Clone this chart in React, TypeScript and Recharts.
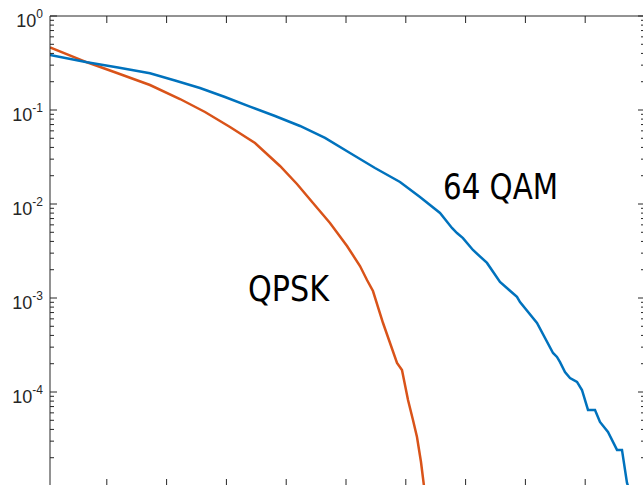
import React from 'react';
import { LineChart, Line, XAxis, YAxis, Customized } from 'recharts';

// Complementary CDF curves, x in dB, probability on a log axis
const qpskX = [0.05, 0.669, 1.17, 1.722, 2.224, 2.642, 3.06, 3.478, 3.896, 4.18, 4.448, 4.732, 5.017, 5.234, 5.351, 5.451, 5.619, 5.853, 5.936, 6.037, 6.12, 6.187, 6.254, 6.304];
const qpskY = [0.462, 0.3217, 0.2475, 0.1845, 0.1309, 0.0952, 0.0659, 0.0446, 0.02537, 0.01632, 0.01025, 0.00628, 0.003574, 0.00219, 0.001554, 0.001187, 5.42e-4, 2.04e-4, 1.71e-4, 8.22e-5, 5.04e-5, 3.32e-5, 1.8e-5, 1e-5];

const qamX = [0.05, 0.669, 1.187, 1.722, 2.14, 2.558, 2.976, 3.394, 3.813, 4.231, 4.649, 5.067, 5.485, 5.903, 6.237, 6.572, 6.772, 6.856, 6.956, 7.123, 7.358, 7.575, 7.859, 7.91, 8.194, 8.462, 8.528, 8.579, 8.662, 8.746, 8.863, 8.946, 9.047, 9.164, 9.247, 9.381, 9.532, 9.615, 9.699, 9.716];
const qamY = [0.385, 0.322, 0.2832, 0.2457, 0.206, 0.1714, 0.1375, 0.1084, 0.0863, 0.0676, 0.0504, 0.0349, 0.02415, 0.01714, 0.01187, 0.00802, 0.00556, 0.00491, 0.00434, 0.00324, 0.00236, 0.00148, 0.00103, 9.06e-4, 5.42e-4, 2.6e-4, 2.36e-4, 2.08e-4, 1.63e-4, 1.41e-4, 1.28e-4, 1.05e-4, 6.44e-5, 6.44e-5, 4.8e-5, 3.75e-5, 2.42e-5, 2.42e-5, 1.08e-5, 1e-5];

const xTicks = [1, 2, 3, 4, 5, 6, 7, 8, 9];
const decadeExponents = [0, -1, -2, -3, -4, -5];
const labelledExponents = [0, -1, -2, -3, -4];
const minorMultipliers = [2, 3, 4, 5, 6, 7, 8, 9];

const seriesLabels = [
  { text: 'QPSK', x: 248, y: 301, width: 81 },
  { text: '64 QAM', x: 443, y: 199, width: 115 },
];

const BLUE = '#0072BD';
const ORANGE = '#D95319';
const AXIS = '#262626';
const MAJOR = 7;
const MINOR = 4;

const qpskData = qpskX.map((x, i) => ({ x, y: qpskY[i] }));
const qamData = qamX.map((x, i) => ({ x, y: qamY[i] }));

const yTicks: number[] = [];
decadeExponents.forEach((e) => {
  const base = Math.pow(10, e);
  yTicks.push(base);
  if (e < 0) minorMultipliers.forEach((m) => yTicks.push(m * base));
});
yTicks.sort((a, b) => a - b);

const exponentOf = (v: number) => Math.round(Math.log10(v));
const isMajor = (v: number) => Math.abs(Math.log10(v) - exponentOf(v)) < 1e-9;

const LeftTick = (props: any) => {
  const { x, y, payload } = props;
  const v = payload.value;
  const major = isMajor(v);
  const len = major ? MAJOR : MINOR;
  const showLabel = major && labelledExponents.includes(exponentOf(v));
  return (
    <g>
      <line x1={x} x2={x + len} y1={y} y2={y} stroke={AXIS} strokeWidth={1} />
      {showLabel && (
        <text x={x - 7} y={y + 11} textAnchor="end" fontSize={18} fill={AXIS} fontFamily="'Liberation Sans', Arial, sans-serif">
          10<tspan dy={-9} fontSize={12}>{String(exponentOf(v))}</tspan>
        </text>
      )}
    </g>
  );
};

const RightTick = (props: any) => {
  const { x, y, payload } = props;
  const len = isMajor(payload.value) ? MAJOR : MINOR;
  return <line x1={x} x2={x - len} y1={y} y2={y} stroke={AXIS} strokeWidth={1} />;
};

const BottomTick = (props: any) => {
  const { x, y } = props;
  return <line x1={x} x2={x} y1={y} y2={y - MAJOR} stroke={AXIS} strokeWidth={1} />;
};

const TopTick = (props: any) => {
  const { x, y } = props;
  return <line x1={x} x2={x} y1={y} y2={y + MAJOR} stroke={AXIS} strokeWidth={1} />;
};

const SeriesLabels = () => (
  <g>
    {seriesLabels.map((l) => (
      <text
        key={l.text}
        x={l.x}
        y={l.y}
        fontSize={35}
        fill="#000"
        textLength={l.width}
        lengthAdjust="spacingAndGlyphs"
        fontFamily="'Liberation Sans Narrow', 'DejaVu Sans Condensed', Roboto, sans-serif"
      >
        {l.text}
      </text>
    ))}
  </g>
);

export default function App() {
  return (
    <div style={{ position: 'fixed', left: 0, top: 0, width: 643, height: 485, overflow: 'hidden', background: '#fff' }}>
      <LineChart width={646} height={487} margin={{ top: 15, right: 0, bottom: 0, left: 0 }}>
        <XAxis
          xAxisId="bottom"
          type="number"
          dataKey="x"
          domain={[0.05, 10]}
          ticks={xTicks}
          interval={0}
          height={1}
          orientation="bottom"
          tickLine={false}
          tickSize={0}
          tickMargin={0}
          axisLine={{ stroke: AXIS }}
          tick={<BottomTick />}
          allowDataOverflow
        />
        <XAxis
          xAxisId="top"
          type="number"
          dataKey="x"
          domain={[0.05, 10]}
          ticks={xTicks}
          interval={0}
          height={1}
          orientation="top"
          tickLine={false}
          tickSize={0}
          tickMargin={0}
          axisLine={{ stroke: AXIS }}
          tick={<TopTick />}
          allowDataOverflow
        />
        <YAxis
          yAxisId="left"
          type="number"
          scale="log"
          domain={[1e-5, 1]}
          ticks={yTicks}
          interval={0}
          width={50}
          orientation="left"
          tickLine={false}
          tickSize={0}
          tickMargin={0}
          axisLine={{ stroke: AXIS }}
          tick={<LeftTick />}
          allowDataOverflow
        />
        <YAxis
          yAxisId="right"
          type="number"
          scale="log"
          domain={[1e-5, 1]}
          ticks={yTicks}
          interval={0}
          width={1}
          orientation="right"
          tickLine={false}
          tickSize={0}
          tickMargin={0}
          axisLine={{ stroke: AXIS }}
          tick={<RightTick />}
          allowDataOverflow
        />
        <Line
          data={qpskData}
          xAxisId="bottom"
          yAxisId="left"
          dataKey="y"
          type="linear"
          stroke={ORANGE}
          strokeWidth={2.5}
          dot={false}
          isAnimationActive={false}
        />
        <Line
          data={qamData}
          xAxisId="bottom"
          yAxisId="left"
          dataKey="y"
          type="linear"
          stroke={BLUE}
          strokeWidth={2.5}
          dot={false}
          isAnimationActive={false}
        />
        <Customized component={SeriesLabels} />
      </LineChart>
    </div>
  );
}
